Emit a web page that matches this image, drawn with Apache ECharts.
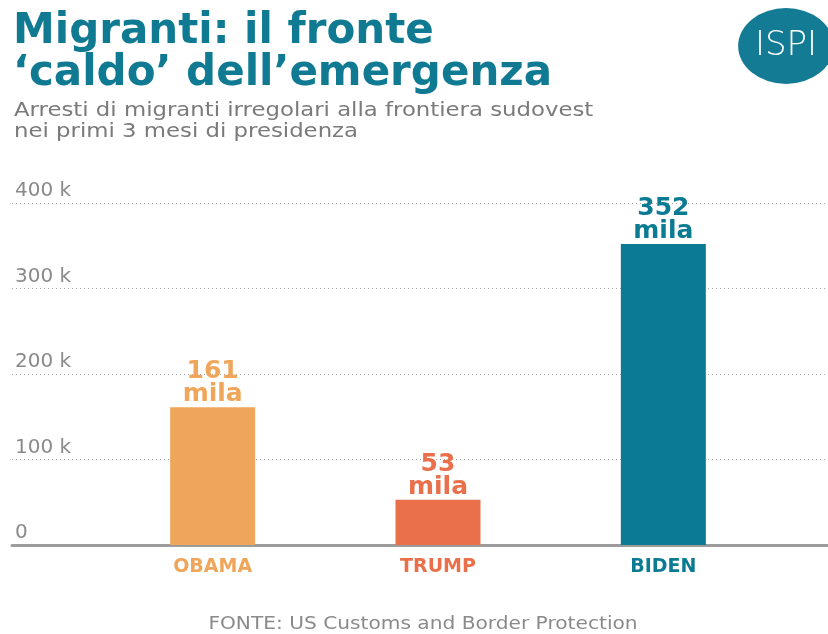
<!DOCTYPE html>
<html>
<head>
<meta charset="utf-8">
<script src="https://cdn.jsdelivr.net/npm/echarts@6/dist/echarts.min.js"></script>
<style>
  html, body { margin: 0; padding: 0; background: #fff; }
  #chart { width: 828px; height: 634px; }
</style>
</head>
<body>
<div id="chart"></div>
<script>
// Presidents compared, arrests in thousands (first 3 months of presidency)
const presidents = ['OBAMA', 'TRUMP', 'BIDEN'];
const arrests = [161, 53, 352];
const barColors = ['#F0A65A', '#E9704A', '#0B7B93'];
const yTicks = [0, 100, 400];

const FONT = 'DejaVu Sans';
const TEAL = '#0F7A92';

const chart = echarts.init(document.getElementById('chart'));

function line(text, x, y, font, fill, extra) {
  return Object.assign({
    type: 'text', x: x, y: y,
    style: { text: text, fill: fill, font: font, textAlign: 'left', textVerticalAlign: 'middle' }
  }, extra || {});
}

chart.setOption({
  backgroundColor: '#ffffff',
  animation: false,
  graphic: [
    line('Migranti: il fronte', 13, 32, `bold 42px "${FONT}"`, TEAL),
    line('‘caldo’ dell’emergenza', 13, 74, `bold 42px "${FONT}"`, TEAL),
    line('Arresti di migranti irregolari alla frontiera sudovest', 14, 111, `20px "${FONT}"`, '#7a7a7a',
      { scaleX: 1.14, originX: 0, originY: 0 }),
    line('nei primi 3 mesi di presidenza', 14, 132, `20px "${FONT}"`, '#7a7a7a',
      { scaleX: 1.14, originX: 0, originY: 0 }),
    {
      type: 'group', x: 786, y: 46, scaleX: 1.26, scaleY: 1,
      children: [{ type: 'circle', shape: { cx: 0, cy: 0, r: 38 }, style: { fill: '#137C94' } }]
    },
    {
      type: 'text', x: 786, y: 46,
      style: {
        text: 'ISPI', fill: '#ffffff', font: `300 34px "${FONT}"`,
        textAlign: 'center', textVerticalAlign: 'middle'
      }
    },
    {
      type: 'text', x: 423, y: 624, scaleX: 1.12, originX: 0, originY: 0,
      style: {
        text: 'FONTE: US Customs and Border Protection', fill: '#8a8a8a',
        font: `18px "${FONT}"`, textAlign: 'center', textVerticalAlign: 'middle'
      }
    }
  ],
  grid: [
    { left: 12, right: 0, top: 203, bottom: 89 },
    { left: 100, right: 52, top: 203, bottom: 89 }
  ],
  xAxis: [
    {
      gridIndex: 0, type: 'value', min: 0, max: 1,
      splitLine: { show: false }, axisTick: { show: false }, axisLabel: { show: false },
      axisLine: { show: true, lineStyle: { color: '#9c9c9c', width: 3 } }
    },
    {
      gridIndex: 1, type: 'category', data: presidents,
      axisLine: { show: false }, axisTick: { show: false },
      axisLabel: {
        margin: 13, fontFamily: FONT, fontWeight: 'bold', fontSize: 19,
        formatter: (v, i) => `{c${i}|${v}}`,
        rich: {
          c0: { color: barColors[0], fontFamily: FONT, fontWeight: 'bold', fontSize: 19 },
          c1: { color: barColors[1], fontFamily: FONT, fontWeight: 'bold', fontSize: 19 },
          c2: { color: barColors[2], fontFamily: FONT, fontWeight: 'bold', fontSize: 19 }
        }
      }
    }
  ],
  yAxis: [
    {
      gridIndex: 0, type: 'value', min: yTicks[0], max: yTicks[2], interval: yTicks[1],
      axisLine: { show: false }, axisTick: { show: false },
      axisLabel: {
        inside: true, margin: 3, verticalAlign: 'bottom', padding: [0, 0, 2, 0],
        color: '#8a8a8a', fontFamily: FONT, fontSize: 20,
        formatter: v => (v === 0 ? '0' : v + ' k')
      },
      splitLine: { show: true, lineStyle: { color: '#a8a8a8', type: [1, 3], width: 1 } }
    },
    {
      gridIndex: 1, type: 'value', min: yTicks[0], max: yTicks[2], interval: yTicks[1],
      show: false
    }
  ],
  series: [
    {
      type: 'bar', xAxisIndex: 1, yAxisIndex: 1, barWidth: 85,
      data: arrests.map((v, i) => ({ value: v, itemStyle: { color: barColors[i] } })),
      label: {
        show: true, position: 'top', distance: 1,
        formatter: p => `{v${p.dataIndex}|${p.value}}\n{v${p.dataIndex}|mila}`,
        rich: {
          v0: { color: barColors[0], fontFamily: FONT, fontWeight: 'bold', fontSize: 25, lineHeight: 23 },
          v1: { color: barColors[1], fontFamily: FONT, fontWeight: 'bold', fontSize: 25, lineHeight: 23 },
          v2: { color: barColors[2], fontFamily: FONT, fontWeight: 'bold', fontSize: 25, lineHeight: 23 }
        }
      }
    }
  ]
});
</script>
</body>
</html>
